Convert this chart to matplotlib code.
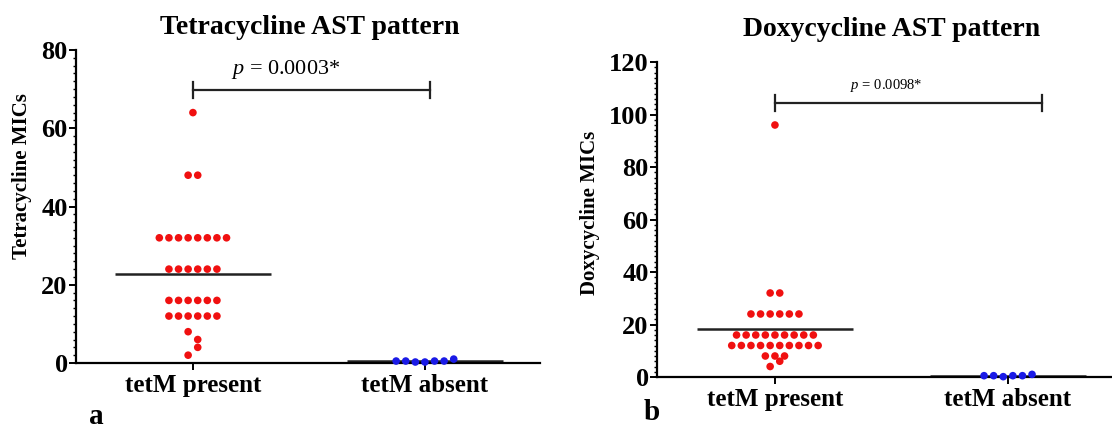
import numpy as np
import matplotlib
matplotlib.use('Agg')
import matplotlib.pyplot as plt
from matplotlib.ticker import MultipleLocator

plt.rcParams['font.family'] = ['Liberation Serif', 'DejaVu Serif']
plt.rcParams['mathtext.fontset'] = 'custom'
plt.rcParams['mathtext.it'] = 'Liberation Serif:italic'
plt.rcParams['mathtext.rm'] = 'Liberation Serif'

# Datos (MICs)
groups = ['tetM present', 'tetM absent']
tet_present = [64, 48, 48,
               32, 32, 32, 32, 32, 32, 32, 32,
               24, 24, 24, 24, 24, 24,
               16, 16, 16, 16, 16, 16,
               12, 12, 12, 12, 12, 12,
               8, 6, 2, 4]
tet_absent = [0.5, 0.5, 0.25, 0.25, 0.5, 0.5, 1]
doxy_present = [96, 32, 32,
                24, 24, 24, 24, 24, 24,
                16, 16, 16, 16, 16, 16, 16, 16, 16,
                12, 12, 12, 12, 12, 12, 12, 12, 12, 12,
                8, 8, 8, 4, 6]
doxy_absent = [0.5, 0.5, 0.125, 0.5, 0.5, 1]
p_tet = '0.0003*'
p_doxy = '0.0098*'

W, H = 1112, 432
RED = '#f01010'
BLUE = '#1a1ae6'


def px(x0, y0, x1, y1):
    # caja en pixeles (desde arriba) -> fraccion de figura
    return [x0 / W, 1 - y1 / H, (x1 - x0) / W, (y1 - y0) / H]


def swarm(vals, ppu_y, ppu_x, d=9.6):
    # filas tipo GraphPad: puntos cercanos en y comparten fila centrada
    vals = np.asarray(vals, dtype=float)
    idx = np.argsort(vals, kind='stable')
    xs = np.zeros(len(vals))
    rows, cur, start = [], [], None
    for i in idx:
        y = vals[i] * ppu_y
        if start is None or y - start >= d:
            if cur:
                rows.append(cur)
            cur, start = [i], y
        else:
            cur.append(i)
    rows.append(cur)
    for r in rows:
        r = sorted(r)
        n = len(r)
        for k, i in enumerate(r):
            xs[i] = (k - (n - 1) / 2) * d / ppu_x
    return xs, vals


def panel(rect, present, absent, ymax, xlim, title_xy, title, ylabel, ylab_xy,
          ptext, p_xy, psize, bracket_y, btick, bend, letter, letter_xy):
    fig_w = rect[2] * W
    fig_h = rect[3] * H
    ax = fig.add_axes(rect)
    ax.set_xlim(*xlim)
    ax.set_ylim(0, ymax)
    ppu_y = fig_h / ymax
    ppu_x = fig_w / (xlim[1] - xlim[0])
    for pos, data, col in [(0, present, RED), (1, absent, BLUE)]:
        dx, yv = swarm(data, ppu_y, ppu_x)
        ax.scatter(pos + dx, yv, s=30, color=col, edgecolors='none', zorder=3, clip_on=False)
        m = np.mean(data)
        ax.plot([pos - 0.335, pos + 0.335], [m, m], color='#222222', lw=1.8, zorder=2,
                solid_capstyle='butt')
    # barra de significancia
    ax.plot([0, bend], [bracket_y, bracket_y], color='#222222', lw=1.6)
    ax.plot([0, 0], [bracket_y - btick, bracket_y + btick], color='#222222', lw=1.6)
    ax.plot([bend, bend], [bracket_y - btick, bracket_y + btick], color='#222222', lw=1.6)
    ax.text(p_xy[0], p_xy[1], r'$p$ = ' + ptext, ha='center', va='center', fontsize=psize)

    for s in ['top', 'right']:
        ax.spines[s].set_visible(False)
    ax.spines['left'].set_linewidth(1.6)
    ax.spines['bottom'].set_linewidth(1.6)
    ax.set_xticks([0, 1])
    ax.set_xticklabels(groups, fontsize=18, fontweight='bold')
    ax.yaxis.set_major_locator(MultipleLocator(20))
    ax.yaxis.set_minor_locator(MultipleLocator(2))
    ax.tick_params(axis='y', which='major', length=5, width=1.4, labelsize=19, pad=1)
    ax.tick_params(axis='y', which='minor', length=2.5, width=1.0)
    ax.tick_params(axis='x', length=5, width=1.4, pad=3)
    for t in ax.get_yticklabels():
        t.set_fontweight('bold')
    fig.text(title_xy[0] / W, 1 - title_xy[1] / H, title, ha='center', va='center',
             fontsize=20, fontweight='bold')
    fig.text(ylab_xy[0] / W, 1 - ylab_xy[1] / H, ylabel, ha='center', va='center',
             rotation=90, fontsize=15, fontweight='bold')
    fig.text(letter_xy[0] / W, 1 - letter_xy[1] / H, letter, ha='center', va='center',
             fontsize=21, fontweight='bold')
    return ax


fig = plt.figure(figsize=(W / 100, H / 100), dpi=100)

panel(px(76, 50, 540, 363), tet_present, tet_absent, 80, (-0.504, 1.496),
      (310, 27), 'Tetracycline AST pattern', 'Tetracycline MICs', (22, 176),
      p_tet, (0.40, 75.0), 16, 69.8, 2.0, 1.02, 'a', (96, 416))
panel(px(657, 62, 1112, 377), doxy_present, doxy_absent, 120, (-0.506, 1.446),
      (892, 30), 'Doxycycline AST pattern', 'Doxycycline MICs', (590, 213),
      p_doxy, (0.476, 111.0), 10.5, 104.5, 3.0, 1.146, 'b', (652, 412))

plt.savefig('out.png', dpi=100)
plt.close()
